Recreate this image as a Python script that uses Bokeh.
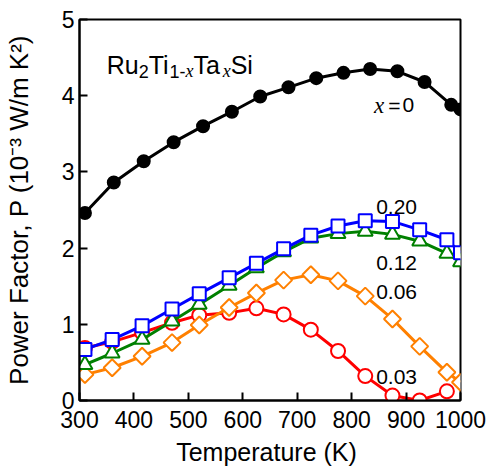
import math
from bokeh.plotting import figure
from bokeh.models import Range1d, Label, FixedTicker
from bokeh.embed import file_html
from bokeh.resources import INLINE

# ---- data ----
T_black = [310, 363, 418, 473, 527, 580, 632, 684, 735, 785, 834, 884, 934, 983, 1000]
P_x000 = [2.46, 2.86, 3.14, 3.39, 3.60, 3.79, 3.99, 4.11, 4.23, 4.30, 4.35, 4.32, 4.18, 3.88, 3.82]

T_col = [310, 360, 415, 470, 520, 575, 625, 675, 725, 775, 825, 875, 925, 975, 1000]
P_x020 = [0.67, 0.80, 0.98, 1.20, 1.40, 1.61, 1.80, 1.99, 2.17, 2.29, 2.36, 2.35, 2.24, 2.11, 1.94]
P_x012 = [0.47, 0.62, 0.80, 1.04, 1.26, 1.51, 1.74, 1.95, 2.13, 2.19, 2.22, 2.18, 2.09, 1.93, 1.82]
P_x006 = [0.34, 0.43, 0.58, 0.76, 0.99, 1.22, 1.41, 1.58, 1.65, 1.57, 1.37, 1.07, 0.71, 0.37, 0.24]
T_red = [310, 360, 415, 470, 520, 575, 625, 675, 725, 775, 825, 875, 925, 975]
P_x003 = [0.69, 0.77, 0.89, 1.02, 1.12, 1.15, 1.21, 1.13, 0.93, 0.65, 0.32, 0.065, 0.0, 0.12]

x_ticks = [300, 400, 500, 600, 700, 800, 900, 1000]
y_ticks = [0, 1, 2, 3, 4, 5]

p = figure(width=489, height=468, output_backend="svg", toolbar_location=None,
           x_range=Range1d(300, 1000), y_range=Range1d(0, 5),
           min_border_left=77, min_border_right=29, min_border_top=19, min_border_bottom=67)
p.background_fill_color = "white"
p.border_fill_color = "white"
p.grid.visible = False
p.outline_line_color = "black"
p.outline_line_width = 2

for ax in (p.xaxis[0], p.yaxis[0]):
    ax.axis_line_width = 2
    ax.axis_line_color = "black"
    ax.major_tick_line_width = 2
    ax.major_tick_line_color = "black"
    ax.major_tick_in = 8
    ax.major_tick_out = 0
    ax.minor_tick_line_color = None
    ax.major_label_text_font = "Liberation Sans"
    ax.major_label_text_font_size = "23px"
    ax.major_label_text_color = "black"
    ax.axis_label_text_font = "Liberation Sans"
    ax.axis_label_text_font_style = "normal"
    ax.axis_label_text_color = "black"

p.xaxis[0].ticker = FixedTicker(ticks=x_ticks)
p.yaxis[0].ticker = FixedTicker(ticks=y_ticks)
p.xaxis[0].major_label_standoff = 10
p.xaxis[0].axis_label = "Temperature  (K)"
p.xaxis[0].axis_label_text_font_size = "25px"
p.xaxis[0].axis_label_standoff = 7
p.yaxis[0].major_label_standoff = 5
p.yaxis[0].axis_label = "Power Factor, P (10\u207b\u00b3 W/m K\u00b2)"
p.yaxis[0].axis_label_text_font_size = "26px"
p.yaxis[0].axis_label_standoff = 25

# ---- series ----
def series(T, P, color, marker, size, angle=0.0, filled=False, lw=3):
    p.line(T, P, line_color=color, line_width=lw)
    p.scatter(T, P, marker=marker, size=size, angle=angle,
              line_color=color, line_width=2,
              fill_color=color if filled else "white")

series(T_red, P_x003, "#ff0000", "circle", 14)
series(T_col, P_x006, "#ff8000", "square", 12, angle=math.pi / 4)
series(T_col, P_x012, "#008000", "triangle", 15)
series(T_col, P_x020, "#0000ff", "square", 13)
series(T_black, P_x000, "black", "circle", 12, filled=True, lw=3)

# ---- text pieces ----
W = {' ': 278, '(': 333, ')': 333, ',': 278, '-': 333, '.': 278, '/': 278, '=': 584,
     'F': 611, 'K': 667, 'P': 667, 'R': 722, 'S': 667, 'T': 611, 'W': 944,
     'a': 556, 'c': 500, 'e': 556, 'i': 222, 'm': 833, 'o': 556, 'r': 333,
     't': 278, 'u': 556, 'w': 722, 'x': 444}
for d in "0123456789":
    W[d] = 556

def width(s, size):
    return sum(W.get(ch, 556) for ch in s) * size / 1000.0

def seq(x, y, pieces):
    cur = 0.0
    for text, size, font, style, rise, gap in pieces:
        cur += gap
        p.add_layout(Label(x=x, y=y, x_offset=cur, y_offset=rise, text=text,
                           text_font=font, text_font_size=f"{size}px",
                           text_font_style=style, text_color="black",
                           text_align="left", text_baseline="alphabetic"))
        cur += width(text, size)

SANS = "Liberation Sans"
SERIF = "Liberation Serif"

# compound formula
seq(350, 4.40, [("Ru", 25, SANS, "normal", 0, 0), ("2", 18, SANS, "normal", -6, 0),
                ("Ti", 25, SANS, "normal", 0, 0), ("1-", 18, SANS, "normal", -6, 0),
                ("x", 18, SERIF, "italic", -6, 0), ("Ta", 25, SANS, "normal", 0, 0),
                ("x", 18, SERIF, "italic", -6, 0), ("Si", 25, SANS, "normal", 0, 0)])

# series labels
seq(841, 3.874, [("x", 23, SERIF, "italic", 0, 0), ("=", 21, SANS, "normal", 0, 4),
                 ("0", 21, SANS, "normal", 0, 2)])
for txt, yv in [("0.20", 2.54), ("0.12", 1.806), ("0.06", 1.427), ("0.03", 0.314)]:
    seq(845, yv, [(txt, 21, SANS, "normal", 0, 0)])

open("out.html", "w").write(file_html(p, INLINE))
